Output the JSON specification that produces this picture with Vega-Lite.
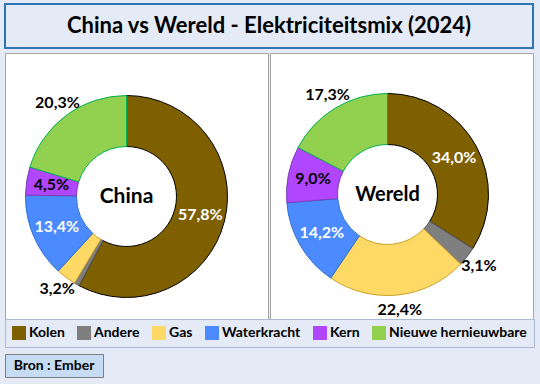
{
  "$schema": "https://vega.github.io/schema/vega-lite/v6.json",
  "background": "#E4EAF6",
  "padding": {"left": 4, "top": 3, "right": 8, "bottom": 12},
  "config": {
    "font": "Lato",
    "locale": {"number": {"decimal": ",", "thousands": ".", "grouping": [3], "currency": ["", " €"]}},
    "view": {"stroke": null}
  },
  "datasets": {
    "mix": [
      {"land": "China", "cat": "Kolen", "o": 1, "share": 0.578},
      {"land": "China", "cat": "Andere", "o": 2, "share": 0.008},
      {"land": "China", "cat": "Gas", "o": 3, "share": 0.032},
      {"land": "China", "cat": "Waterkracht", "o": 4, "share": 0.134},
      {"land": "China", "cat": "Kern", "o": 5, "share": 0.045},
      {"land": "China", "cat": "Nieuwe hernieuwbare", "o": 6, "share": 0.203},
      {"land": "Wereld", "cat": "Kolen", "o": 1, "share": 0.340},
      {"land": "Wereld", "cat": "Andere", "o": 2, "share": 0.031},
      {"land": "Wereld", "cat": "Gas", "o": 3, "share": 0.224},
      {"land": "Wereld", "cat": "Waterkracht", "o": 4, "share": 0.142},
      {"land": "Wereld", "cat": "Kern", "o": 5, "share": 0.090},
      {"land": "Wereld", "cat": "Nieuwe hernieuwbare", "o": 6, "share": 0.173}
    ]
  },
  "spacing": 32,
  "vconcat": [
    {
      "spacing": 3,
      "vconcat": [
        {
          "width": 528, "height": 44,
          "view": {"fill": "#E4EAF6", "stroke": "#2E75B6", "strokeWidth": 2},
          "data": {"values": [{"t": "China vs Wereld - Elektriciteitsmix (2024)"}]},
          "mark": {"type": "text", "font": "Lato", "fontSize": 22, "fontWeight": "bold", "color": "black"},
          "encoding": {"text": {"field": "t"}}
        },
        {
          "spacing": 2,
          "bounds": "flush",
          "hconcat": [
            {
              "width": 263, "height": 267,
              "view": {"fill": "white", "stroke": "#A6A6A6", "strokeWidth": 1},
              "layer": [
                {
                  "data": {"name": "mix"},
                  "transform": [{"filter": "datum.land === 'China'"}],
                  "mark": {"type": "arc", "innerRadius": 50, "outerRadius": 101, "strokeWidth": 1, "xOffset": -10, "yOffset": 10},
                  "encoding": {
                    "theta": {"field": "share", "type": "quantitative", "stack": true},
                    "order": {"field": "o", "type": "quantitative"},
                    "color": {
                      "field": "cat", "type": "nominal",
                      "scale": {"domain": ["Kolen", "Andere", "Gas", "Waterkracht", "Kern", "Nieuwe hernieuwbare"],
                                "range": ["#7F6000", "#7F7F7F", "#FFD966", "#4B8BFF", "#B146FF", "#92D050"]},
                      "legend": {
                        "title": null, "orient": "none", "legendX": 0, "legendY": 315, "direction": "horizontal", "columns": 6,
                        "symbolType": "square", "symbolSize": 196, "symbolStrokeWidth": 0, "symbolOpacity": 1,
                        "labelFont": "Lato", "labelFontSize": 14, "labelFontWeight": "bold", "labelColor": "black",
                        "columnPadding": 12, "labelOffset": 3, "padding": 7, "strokeColor": "#A9B9D6", "fillColor": "#E4EAF6"
                      }
                    },
                    "stroke": {
                      "field": "cat", "type": "nominal",
                      "scale": {"domain": ["Kolen", "Andere", "Gas", "Waterkracht", "Kern", "Nieuwe hernieuwbare"],
                                "range": ["#000000", "#595959", "#C9A227", "#2E6FD0", "#7A3FB0", "#00B050"]},
                      "legend": null
                    }
                  }
                },
                {
                  "data": {"name": "mix"},
                  "transform": [{"filter": "datum.land === 'China'"}],
                  "mark": {"type": "text", "radius": 116, "font": "Lato", "fontSize": 16, "fontWeight": "bold", "color": "black", "xOffset": -10, "yOffset": 10},
                  "encoding": {
                    "theta": {"field": "share", "type": "quantitative", "stack": true},
                    "order": {"field": "o", "type": "quantitative"},
                    "detail": {"field": "cat"},
                    "text": {"condition": {"test": "datum.cat === 'Kolen' || datum.cat === 'Waterkracht' || datum.cat === 'Kern' || datum.share < 0.01", "value": ""}, "field": "share", "type": "quantitative", "format": ".1%"}
                  }
                },
                {
                  "data": {"name": "mix"},
                  "transform": [{"filter": "datum.land === 'China'"}],
                  "mark": {"type": "text", "radius": 76, "font": "Lato", "fontSize": 16, "fontWeight": "bold", "xOffset": -10, "yOffset": 10},
                  "encoding": {
                    "theta": {"field": "share", "type": "quantitative", "stack": true},
                    "order": {"field": "o", "type": "quantitative"},
                    "detail": {"field": "cat"},
                    "text": {"condition": {"test": "datum.cat !== 'Kolen' && datum.cat !== 'Waterkracht' && datum.cat !== 'Kern'", "value": ""}, "field": "share", "type": "quantitative", "format": ".1%"},
                    "color": {"condition": {"test": "datum.cat === 'Kern'", "value": "black"}, "value": "white"}
                  }
                },
                {
                  "data": {"values": [{"name": "China"}]},
                  "mark": {"type": "text", "font": "Lato", "fontSize": 21, "fontWeight": "bold", "color": "black", "xOffset": -10, "yOffset": 10},
                  "encoding": {"text": {"field": "name"}}
                }
              ]
            },
            {
              "width": 263, "height": 267,
              "view": {"fill": "white", "stroke": "#A6A6A6", "strokeWidth": 1},
              "layer": [
                {
                  "data": {"name": "mix"},
                  "transform": [{"filter": "datum.land === 'Wereld'"}],
                  "mark": {"type": "arc", "innerRadius": 50, "outerRadius": 101, "strokeWidth": 1, "xOffset": -14, "yOffset": 8},
                  "encoding": {
                    "theta": {"field": "share", "type": "quantitative", "stack": true},
                    "order": {"field": "o", "type": "quantitative"},
                    "color": {"field": "cat", "type": "nominal"},
                    "stroke": {"field": "cat", "type": "nominal", "legend": null}
                  }
                },
                {
                  "data": {"name": "mix"},
                  "transform": [{"filter": "datum.land === 'Wereld'"}],
                  "mark": {"type": "text", "radius": 116, "font": "Lato", "fontSize": 16, "fontWeight": "bold", "color": "black", "xOffset": -14, "yOffset": 8},
                  "encoding": {
                    "theta": {"field": "share", "type": "quantitative", "stack": true},
                    "order": {"field": "o", "type": "quantitative"},
                    "detail": {"field": "cat"},
                    "text": {"condition": {"test": "datum.cat === 'Kolen' || datum.cat === 'Waterkracht' || datum.cat === 'Kern'", "value": ""}, "field": "share", "type": "quantitative", "format": ".1%"}
                  }
                },
                {
                  "data": {"name": "mix"},
                  "transform": [{"filter": "datum.land === 'Wereld'"}],
                  "mark": {"type": "text", "radius": 76, "font": "Lato", "fontSize": 16, "fontWeight": "bold", "xOffset": -14, "yOffset": 8},
                  "encoding": {
                    "theta": {"field": "share", "type": "quantitative", "stack": true},
                    "order": {"field": "o", "type": "quantitative"},
                    "detail": {"field": "cat"},
                    "text": {"condition": {"test": "datum.cat !== 'Kolen' && datum.cat !== 'Waterkracht' && datum.cat !== 'Kern'", "value": ""}, "field": "share", "type": "quantitative", "format": ".1%"},
                    "color": {"condition": {"test": "datum.cat === 'Kern'", "value": "black"}, "value": "white"}
                  }
                },
                {
                  "data": {"values": [{"name": "Wereld"}]},
                  "mark": {"type": "text", "font": "Lato", "fontSize": 20, "fontWeight": "bold", "color": "black", "xOffset": -14, "yOffset": 8},
                  "encoding": {"text": {"field": "name"}}
                }
              ]
            }
          ]
        }
      ]
    },
    {
      "width": 98, "height": 23,
      "view": {"fill": "#C6DCF5", "stroke": "#7F7F7F", "strokeWidth": 1},
      "data": {"values": [{"t": "Bron : Ember"}]},
      "mark": {"type": "text", "font": "Lato", "fontSize": 14, "fontWeight": "bold", "color": "black"},
      "encoding": {"text": {"field": "t"}}
    }
  ]
}
